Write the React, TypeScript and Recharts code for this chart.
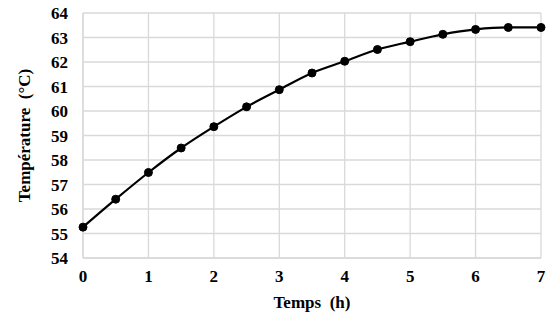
import { LineChart, Line, XAxis, YAxis, CartesianGrid } from "recharts";

const hours = [0, 0.5, 1, 1.5, 2, 2.5, 3, 3.5, 4, 4.5, 5, 5.5, 6, 6.5, 7];
const temps = [55.26, 56.4, 57.49, 58.49, 59.36, 60.17, 60.87, 61.55, 62.03, 62.51, 62.83, 63.13, 63.33, 63.41, 63.41];
const xTicks = [0, 1, 2, 3, 4, 5, 6, 7];
const yTicks = [54, 55, 56, 57, 58, 59, 60, 61, 62, 63, 64];

const data = hours.map((h, i) => ({ h, t: temps[i] }));

const FONT = "'Liberation Serif', 'Times New Roman', serif";
const tickStyle = { fontSize: 17, fontWeight: 700, fill: "#000", fontFamily: FONT };

const YLabel = (props: any) => {
  const { viewBox } = props;
  const cx = viewBox.x + 24;
  const cy = viewBox.y + viewBox.height / 2;
  return (
    <text
      x={cx}
      y={cy}
      transform={`rotate(-90, ${cx}, ${cy})`}
      textAnchor="middle"
      dominantBaseline="central"
      style={{ fontSize: 17, fontWeight: 700, fill: "#000", fontFamily: FONT, whiteSpace: "pre" }}
    >
      {"Température  (°C)"}
    </text>
  );
};

export default function App() {
  return (
    <div style={{ position: "absolute", left: 0, top: 0, width: 548, height: 320, background: "#fff" }}>
      <LineChart width={548} height={320} data={data} margin={{ top: 13, right: 7, bottom: 0, left: 0 }}>
        <CartesianGrid stroke="#d9d9d9" strokeWidth={1.3} />
        <XAxis
          dataKey="h"
          type="number"
          domain={[0, 7]}
          ticks={xTicks}
          interval={0}
          tickLine={false}
          axisLine={{ stroke: "#d9d9d9", strokeWidth: 1.3 }}
          tick={tickStyle}
          tickMargin={6}
          height={62}
          label={{ value: "Temps\u00A0 (h)", position: "insideBottom", offset: 12, style: tickStyle }}
        />
        <YAxis
          type="number"
          domain={[54, 64]}
          ticks={yTicks}
          interval={0}
          tickLine={false}
          axisLine={{ stroke: "#d9d9d9", strokeWidth: 1.3 }}
          tick={tickStyle}
          tickMargin={9}
          width={83}
          label={<YLabel />}
        />
        <Line
          dataKey="t"
          type="monotone"
          stroke="#000"
          strokeWidth={2.2}
          dot={{ r: 4, fill: "#000", stroke: "#000", strokeWidth: 1 }}
          isAnimationActive={false}
        />
      </LineChart>
    </div>
  );
}
